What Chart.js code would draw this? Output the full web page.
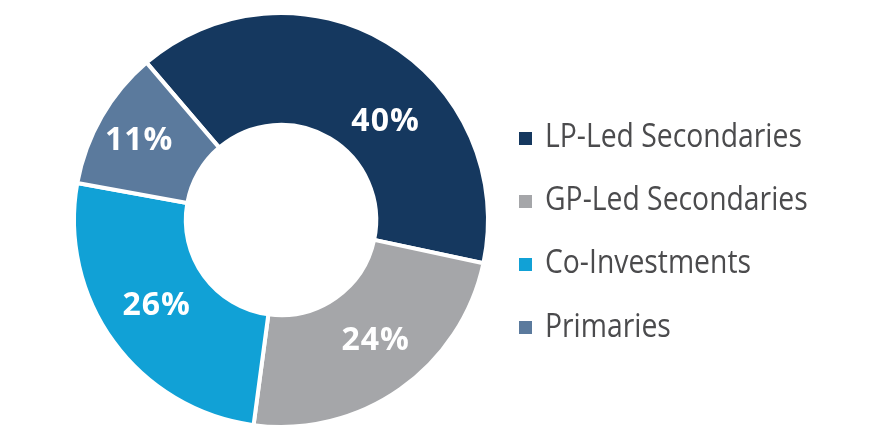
<!DOCTYPE html>
<html><head><meta charset="utf-8">
<script src="https://cdn.jsdelivr.net/npm/chart.js@4.4.1/dist/chart.umd.min.js"></script>
<style>
html,body{margin:0;padding:0;background:#fff;}
#wrap{position:relative;width:880px;height:442px;overflow:hidden;}
#c{position:absolute;left:0;top:0;}
#legend{position:absolute;left:519px;top:0;}
.item{position:absolute;left:0;height:63px;display:flex;align-items:center;white-space:nowrap;}
.sw{width:13px;height:13px;margin-right:13px;flex:none;}
.lt{font-family:'Open Sans',sans-serif;font-size:32px;line-height:1;color:#4b4b4d;position:relative;top:-3px;display:inline-block;transform:scaleX(0.885);transform-origin:0 50%;}
</style></head>
<body><div id="wrap"><canvas id="c" width="880" height="442"></canvas><div id="legend"></div></div>
<script>
const categories = ['LP-Led Secondaries', 'GP-Led Secondaries', 'Co-Investments', 'Primaries'];
const values = [40, 24, 26, 11];
const valueLabels = ['40%', '24%', '26%', '11%'];
const colors = ['#15385f', '#a5a6a9', '#11a1d6', '#5b7a9d'];

// legend (HTML text)
const legend = document.getElementById('legend');
categories.forEach((name, i) => {
  const row = document.createElement('div');
  row.className = 'item';
  row.style.top = (138 + 63.2 * i - 31.5) + 'px';
  const sw = document.createElement('span');
  sw.className = 'sw';
  sw.style.background = colors[i];
  const t = document.createElement('span');
  t.className = 'lt';
  t.textContent = name;
  row.appendChild(sw); row.appendChild(t);
  legend.appendChild(row);
});

const sliceLabels = {
  id: 'sliceLabels',
  afterDatasetsDraw(chart, args, opts) {
    const ctx = chart.ctx;
    const meta = chart.getDatasetMeta(0);
    ctx.save();
    ctx.font = `bold ${opts.size}px 'Open Sans', sans-serif`;
    if ('letterSpacing' in ctx) ctx.letterSpacing = '1px';
    ctx.fillStyle = '#ffffff';
    ctx.textAlign = 'center';
    ctx.textBaseline = 'alphabetic';
    meta.data.forEach((arc, i) => {
      const p = arc.getProps(['x', 'y', 'startAngle', 'endAngle', 'outerRadius'], true);
      const a = (p.startAngle + p.endAngle) / 2 + opts.angleShift[i] * Math.PI / 180;
      const r = p.outerRadius * opts.radiusFrac[i];
      const x = p.x + Math.cos(a) * r;
      const y = p.y + Math.sin(a) * r;
      ctx.fillText(valueLabels[i], x, y + opts.size * 0.357);
    });
    ctx.restore();
  }
};

function build() {
  new Chart(document.getElementById('c'), {
    type: 'doughnut',
    data: {
      labels: categories,
      datasets: [{
        data: values,
        backgroundColor: colors,
        borderColor: '#ffffff',
        borderWidth: 4,
        hoverOffset: 0
      }]
    },
    options: {
      responsive: false,
      animation: false,
      rotation: -40.5,
      cutout: '46%',
      layout: { padding: { left: 72, right: 390, top: 11, bottom: 13 } },
      plugins: {
        legend: { display: false },
        tooltip: { enabled: false },
        sliceLabels: {
          size: 32,
          angleShift: [15.4, -3.4, 2, 0],
          radiusFrac: [0.70, 0.734, 0.725, 0.79]
        }
      }
    },
    plugins: [sliceLabels]
  });
}
if (document.fonts && document.fonts.load) {
  Promise.all([
    document.fonts.load("bold 32px 'Open Sans'"),
    document.fonts.load("32px 'Open Sans'")
  ]).then(build, build);
} else { build(); }
</script>
</body></html>
